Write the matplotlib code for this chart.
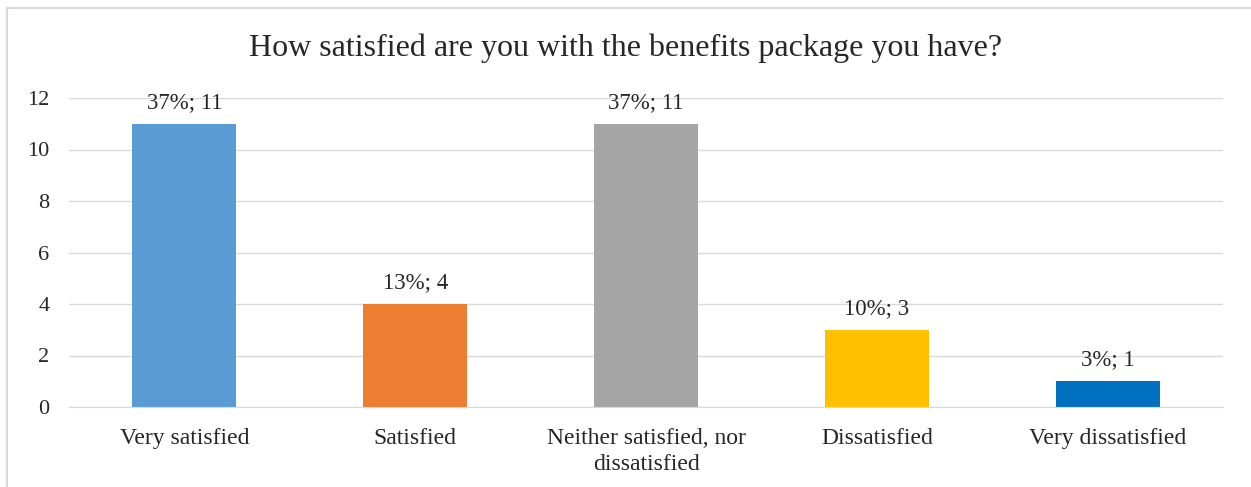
import matplotlib.pyplot as plt
from matplotlib.lines import Line2D

categories = ["Very satisfied", "Satisfied", "Neither satisfied, nor\ndissatisfied",
              "Dissatisfied", "Very dissatisfied"]
counts = [11, 4, 11, 3, 1]
percents = [37, 13, 37, 10, 3]
colors = ["#5B9BD5", "#ED7D31", "#A5A5A5", "#FFC000", "#0070C0"]

plt.rcParams['font.family'] = ['Liberation Serif', 'DejaVu Serif']

fig = plt.figure(figsize=(12.51, 4.87), dpi=100)
ax = fig.add_axes([69 / 1251, 1 - 407 / 487, (1223 - 69) / 1251, (407 - 98) / 487])

x = range(len(categories))
bars = ax.bar(x, counts, width=0.45, color=colors, zorder=3)
for b, c, p in zip(bars, counts, percents):
    ax.text(b.get_x() + b.get_width() / 2, c + 0.42, f"{p}%; {c}",
            ha='center', va='bottom', fontsize=16.5, color='#262626')

ax.set_xlim(-0.5, len(categories) - 0.5)
ax.set_ylim(0, 12)
ax.set_yticks(range(0, 13, 2))
ax.set_xticks(list(x))
ax.set_xticklabels(categories, fontsize=17, color='#262626', linespacing=1.35)
ax.tick_params(axis='y', labelsize=16, labelcolor='#262626', length=0, pad=14)
ax.tick_params(axis='x', length=0, pad=15)
ax.grid(axis='y', color='#D9D9D9', linewidth=1, zorder=0)
for s in ['top', 'right', 'left']:
    ax.spines[s].set_visible(False)
ax.spines['bottom'].set_color('#D9D9D9')
ax.spines['bottom'].set_zorder(4)

fig.text(0.5, 1 - 48 / 487, "How satisfied are you with the benefits package you have?",
         ha='center', va='center', fontsize=23, color='#262626')

# outer chart frame (top and left edges only visible)
fig.add_artist(Line2D([7 / 1251, 7 / 1251], [0, 1 - 8 / 487], transform=fig.transFigure,
                      color='#D9D9D9', linewidth=1.5))
fig.add_artist(Line2D([7 / 1251, 1], [1 - 8 / 487, 1 - 8 / 487], transform=fig.transFigure,
                      color='#D9D9D9', linewidth=1.5))

fig.savefig("out.png", dpi=100)
